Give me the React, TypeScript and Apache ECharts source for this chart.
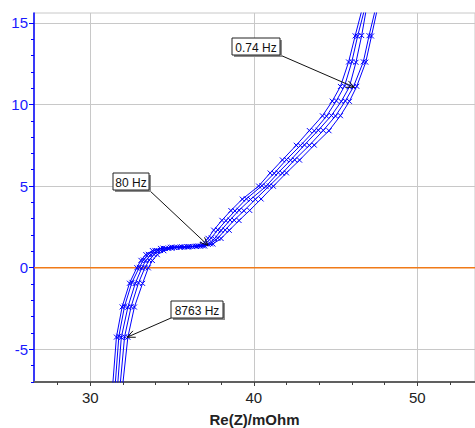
import React, { useEffect, useRef } from "react";
import * as echarts from "echarts";

const xMajorTicks = [30, 40, 50];
const xMinorTicks = [28, 30, 32, 34, 36, 38, 40, 42, 44, 46, 48, 50, 52];
const yMajorTicks = [-5, 0, 5, 10, 15];
const yMinorTicks = [-7, -6, -5, -4, -3, -2, -1, 0, 1, 2, 3, 4, 5, 6, 7, 8, 9, 10, 11, 12, 13, 14, 15];
const zeroLineY = 0;

const run1X = [31.35, 31.6, 31.95, 32.4, 32.85, 33.1, 33.4, 33.8, 34.3, 34.9, 35.5, 36.0, 36.5, 36.9, 37.2, 37.55, 38.05, 38.6, 39.3, 40.3, 41.0, 41.75, 42.6, 43.4, 44.2, 44.8, 45.3, 45.8, 46.2, 46.8];
const run1Y = [-7.5, -4.25, -2.4, -0.95, 0, 0.45, 0.8, 1.05, 1.18, 1.25, 1.27, 1.29, 1.32, 1.45, 1.8, 2.3, 2.9, 3.5, 4.2, 5.0, 5.8, 6.6, 7.5, 8.4, 9.3, 10.2, 11.1, 12.6, 14.2, 16.5];
const run2X = [31.5, 31.75, 32.1, 32.55, 33.0, 33.25, 33.55, 33.95, 34.45, 35.0, 35.6, 36.1, 36.6, 37.05, 37.4, 37.8, 38.3, 38.85, 39.55, 40.5, 41.25, 42.0, 42.85, 43.7, 44.45, 45.05, 45.55, 46.0, 46.35, 46.95];
const run2Y = [-7.5, -4.2, -2.35, -0.9, 0.02, 0.47, 0.82, 1.06, 1.2, 1.26, 1.28, 1.3, 1.34, 1.47, 1.82, 2.32, 2.88, 3.48, 4.22, 5.02, 5.78, 6.62, 7.48, 8.38, 9.28, 10.22, 11.12, 12.62, 14.18, 16.5];
const run3X = [31.65, 31.9, 32.3, 32.75, 33.15, 33.4, 33.7, 34.1, 34.6, 35.15, 35.75, 36.25, 36.75, 37.2, 37.6, 38.0, 38.55, 39.1, 39.8, 40.75, 41.5, 42.25, 43.1, 43.95, 44.75, 45.35, 45.85, 46.25, 46.6, 47.0];
const run3Y = [-7.5, -4.27, -2.42, -0.97, -0.02, 0.44, 0.79, 1.04, 1.17, 1.24, 1.27, 1.29, 1.32, 1.44, 1.78, 2.28, 2.92, 3.52, 4.18, 4.98, 5.82, 6.58, 7.52, 8.42, 9.32, 10.18, 11.08, 12.58, 14.22, 16.5];
const run4X = [31.8, 32.1, 32.5, 32.95, 33.35, 33.6, 33.9, 34.3, 34.8, 35.3, 35.9, 36.4, 36.9, 37.35, 37.8, 38.25, 38.8, 39.4, 40.1, 40.95, 41.75, 42.5, 43.4, 44.25, 45.0, 45.6, 46.1, 46.7, 47.05, 47.6];
const run4Y = [-7.5, -4.23, -2.38, -0.93, 0.01, 0.46, 0.81, 1.05, 1.19, 1.25, 1.28, 1.31, 1.34, 1.46, 1.81, 2.31, 2.91, 3.49, 4.19, 5.01, 5.79, 6.61, 7.49, 8.41, 9.29, 10.21, 11.09, 12.61, 14.21, 16.5];
const run5X = [31.95, 32.3, 32.7, 33.2, 33.55, 33.8, 34.1, 34.5, 35.0, 35.5, 36.0, 36.5, 37.0, 37.5, 38.0, 38.5, 39.1, 39.75, 40.45, 41.2, 42.0, 42.8, 43.7, 44.6, 45.3, 45.85, 46.3, 46.85, 47.2, 47.7];
const run5Y = [-7.5, -4.26, -2.41, -0.96, -0.01, 0.44, 0.8, 1.04, 1.18, 1.24, 1.27, 1.3, 1.33, 1.45, 1.79, 2.29, 2.89, 3.51, 4.21, 4.99, 5.81, 6.59, 7.51, 8.39, 9.31, 10.19, 11.11, 12.59, 14.19, 16.5];

const runsX = [run1X, run2X, run3X, run4X, run5X];
const runsY = [run1Y, run2Y, run3Y, run4Y, run5Y];

const annotLabels = ["0.74 Hz", "80 Hz", "8763 Hz"];
const annotX = [46.15, 37.2, 32.25];
const annotY = [11.05, 1.37, -4.26];

const FONT = "'Liberation Sans', Arial, sans-serif";
const BLUE = "#0000ff";

export default function App() {
  const ref = useRef<HTMLDivElement>(null);
  useEffect(() => {
    if (!ref.current) return;
    const chart = echarts.init(ref.current, null, { renderer: "svg" });
    const xMin = 26.56;
    const xMax = 53.53;
    const yMin = -7;
    const yMax = 15.6;
    const series: any[] = [
      {
        type: "line",
        xAxisIndex: 0,
        yAxisIndex: 0,
        data: [
          [xMin, zeroLineY],
          [xMax, zeroLineY],
        ],
        symbol: "none",
        silent: true,
        lineStyle: { color: "#f07a18", width: 1.5 },
        z: 2,
      },
    ];
    runsX.forEach((xs, i) => {
      series.push({
        type: "line",
        xAxisIndex: 0,
        yAxisIndex: 0,
        data: xs.map((x, j) => [x, runsY[i][j]]),
        symbol: "path://M0,0L10,10M10,0L0,10",
        symbolSize: 5,
        showAllSymbol: true,
        clip: true,
        lineStyle: { color: BLUE, width: 1 },
        itemStyle: { color: "transparent", borderColor: BLUE, borderWidth: 1 },
        z: 3,
      });
    });
    chart.setOption({
      animation: false,
      grid: {
        left: 34,
        right: 0,
        top: 13,
        bottom: 46,
        show: true,
        borderColor: "#c8c8c8",
        borderWidth: 1,
        backgroundColor: "transparent",
        containLabel: false,
        outerBoundsMode: "none",
      },
      xAxis: [
        {
          type: "value",
          min: xMin,
          max: xMax,
          position: "bottom",
          axisLine: { show: true, onZero: false, lineStyle: { color: "#606060", width: 2 } },
          axisTick: { show: true, customValues: xMajorTicks, length: 4, lineStyle: { color: "#404040" } },
          axisLabel: { customValues: xMajorTicks, fontSize: 15, color: "#222", fontFamily: FONT, margin: 8 },
          splitLine: { show: true, lineStyle: { color: "#c8c8c8", width: 1 } },
          name: "Re(Z)/mOhm",
          nameLocation: "middle",
          nameGap: 30,
          nameTextStyle: { fontSize: 15, fontWeight: "bold", color: "#222", fontFamily: FONT },
        },
        {
          type: "value",
          min: xMin,
          max: xMax,
          position: "bottom",
          axisLine: { show: false, onZero: false },
          axisTick: { show: true, customValues: xMinorTicks, length: 3, lineStyle: { color: "#404040" } },
          axisLabel: { show: false },
          splitLine: { show: false },
        },
      ],
      yAxis: [
        {
          type: "value",
          min: yMin,
          max: yMax,
          position: "left",
          axisLine: { show: true, onZero: false, lineStyle: { color: BLUE, width: 1.5 } },
          axisTick: { show: true, customValues: yMajorTicks, length: 5, lineStyle: { color: BLUE } },
          axisLabel: { customValues: yMajorTicks, fontSize: 15, color: "#1a1aff", fontFamily: FONT, margin: 6 },
          splitLine: { show: true, lineStyle: { color: "#c8c8c8", width: 1 } },
        },
        {
          type: "value",
          min: yMin,
          max: yMax,
          position: "left",
          axisLine: { show: false, onZero: false },
          axisTick: { show: true, customValues: yMinorTicks, length: 3, lineStyle: { color: BLUE } },
          axisLabel: { show: false },
          splitLine: { show: false },
        },
      ],
      series,
    });

    const boxes = [
      { x: 232, y: 38, w: 48, h: 17, sx: 280, sy: 55 },
      { x: 113, y: 173, w: 36, h: 17, sx: 149, sy: 190 },
      { x: 171, y: 301, w: 52, h: 17, sx: 171, sy: 318 },
    ];
    const graphic: any[] = [];
    annotLabels.forEach((label, i) => {
      const b = boxes[i];
      const tip = chart.convertToPixel({ gridIndex: 0 }, [annotX[i], annotY[i]]) as number[];
      const dx = tip[0] - b.sx;
      const dy = tip[1] - b.sy;
      const len = Math.sqrt(dx * dx + dy * dy);
      const ux = dx / len;
      const uy = dy / len;
      const nx = -uy;
      const ny = ux;
      const al = 8;
      const aw = 3.5;
      graphic.push({
        type: "line",
        shape: { x1: b.sx, y1: b.sy, x2: tip[0], y2: tip[1] },
        style: { stroke: "#111", lineWidth: 1 },
        z: 10,
      });
      graphic.push({
        type: "polyline",
        shape: {
          points: [
            [tip[0] - al * ux + aw * nx, tip[1] - al * uy + aw * ny],
            [tip[0], tip[1]],
            [tip[0] - al * ux - aw * nx, tip[1] - al * uy - aw * ny],
          ],
        },
        style: { stroke: "#111", lineWidth: 1, fill: "none" },
        z: 10,
      });
      graphic.push({
        type: "rect",
        shape: { x: b.x + 2, y: b.y + 2, width: b.w, height: b.h },
        style: { fill: "#8a8a8a" },
        z: 11,
      });
      graphic.push({
        type: "rect",
        shape: { x: b.x, y: b.y, width: b.w, height: b.h },
        style: { fill: "#ffffff", stroke: "#222", lineWidth: 1 },
        z: 12,
      });
      graphic.push({
        type: "text",
        x: b.x + b.w / 2,
        y: b.y + b.h / 2 + 1,
        style: {
          text: label,
          fill: "#111",
          fontSize: 12,
          fontFamily: FONT,
          align: "center",
          verticalAlign: "middle",
        },
        z: 13,
      });
    });
    chart.setOption({ graphic });

    return () => chart.dispose();
  }, []);
  return (
    <div
      ref={ref}
      style={{ position: "fixed", left: 0, top: 0, width: 475, height: 428, background: "#fff" }}
    />
  );
}
